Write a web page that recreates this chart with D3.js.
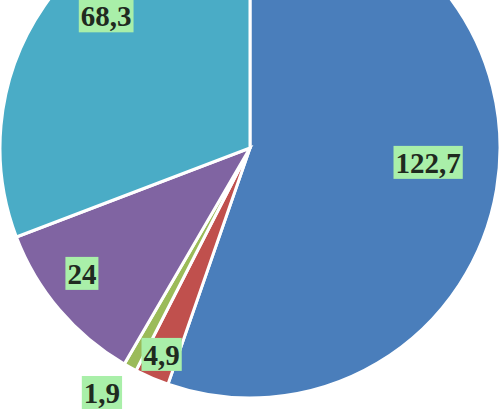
<!DOCTYPE html>
<html>
<head>
<meta charset="utf-8">
<script src="https://cdn.jsdelivr.net/npm/d3@7"></script>
<style>
  html, body { margin: 0; padding: 0; background: #fff; overflow: hidden; }
</style>
</head>
<body>
<div id="chart"></div>
<script>
// slice data, clockwise from 12 o'clock
var labels = ["122,7", "4,9", "1,9", "24", "68,3"];
var values = [122.7, 4.9, 1.9, 24, 68.3];
var colors = ["#4a7ebb", "#c0504d", "#9bbb59", "#8064a2", "#4aacc6"];

// label placement: radius as a share of the pie radius, angle shift in degrees
var labelRadius = [0.715, 0.9, 1.145, 0.84, 0.78];
var labelShift = [-4.8, 0, 2.5, 3.5, 7.9];

var width = 503,
  height = 409,
  cx = 250,
  cy = 148,
  R = 250;

var svg = d3.select("#chart")
  .append("svg")
  .attr("width", width)
  .attr("height", height);

var g = svg.append("g")
  .attr("transform", "translate(" + cx + "," + cy + ")");

var pie = d3.pie()
  .sort(null)
  .value(function (d) { return d; });

var arcs = pie(values);

var arc = d3.arc()
  .innerRadius(0)
  .outerRadius(R);

g.selectAll("path.slice")
  .data(arcs)
  .enter()
  .append("path")
  .attr("class", "slice")
  .attr("d", arc)
  .style("fill", function (d, i) { return colors[i]; })
  .style("stroke", "#fff")
  .style("stroke-width", 3)
  .style("stroke-linejoin", "miter");

// data labels with green boxes
var lab = g.selectAll("g.lab")
  .data(arcs)
  .enter()
  .append("g")
  .attr("class", "lab")
  .attr("transform", function (d, i) {
    var a = (d.startAngle + d.endAngle) / 2 + labelShift[i] * Math.PI / 180;
    var r = R * labelRadius[i];
    return "translate(" + (r * Math.sin(a)) + "," + (-r * Math.cos(a)) + ")";
  });

var txt = lab.append("text")
  .attr("text-anchor", "middle")
  .attr("dy", "0.35em")
  .style("font-family", "'Liberation Serif', 'Times New Roman', serif")
  .style("font-weight", "bold")
  .style("font-size", "29px")
  .style("fill", "#1f2a1f")
  .text(function (d, i) { return labels[i]; });

txt.each(function () {
  var b = this.getBBox();
  d3.select(this.parentNode).insert("rect", "text")
    .attr("x", b.x - 2)
    .attr("y", -17)
    .attr("width", b.width + 4)
    .attr("height", 33)
    .style("fill", "#a9efa9");
});
</script>
</body>
</html>
